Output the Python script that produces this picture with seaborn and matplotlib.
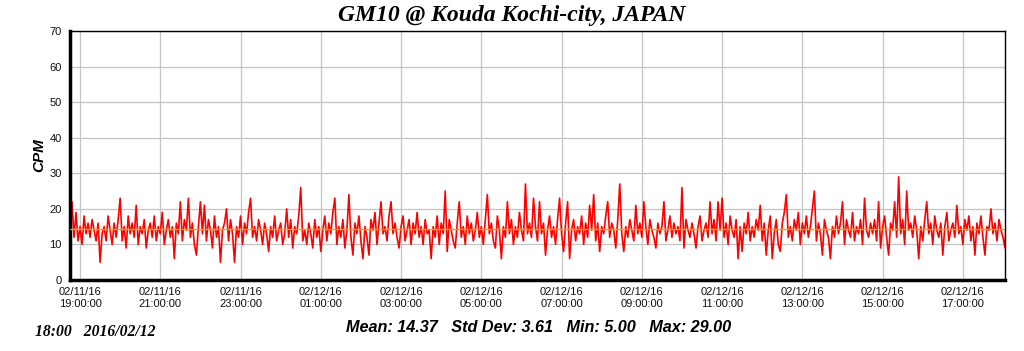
import matplotlib
matplotlib.use("Agg")
import matplotlib.pyplot as plt
import matplotlib.dates as mdates
import numpy as np
import pandas as pd
import seaborn as sns

# CPM readings, one value every 3 minutes
cpm = [
    17, 22, 12, 19, 11, 15, 10, 18, 13, 16, 12, 17, 14, 11, 16, 5, 13, 15, 11, 18,
    14, 10, 16, 12, 17, 23, 11, 15, 9, 18, 13, 16, 12, 21, 10, 15, 13, 17, 9, 14,
    16, 12, 18, 11, 15, 13, 19, 10, 14, 17, 12, 15, 6, 16, 13, 22, 11, 17, 14, 23,
    12, 16, 10, 7, 15, 22, 13, 21, 11, 17, 14, 9, 18, 12, 15, 5, 14, 16, 20, 11,
    17, 13, 5, 15, 12, 18, 10, 16, 13, 19, 23, 12, 15, 11, 17, 14, 10, 16, 13, 8,
    15, 12, 18, 11, 14, 16, 10, 13, 20, 12, 17, 9, 15, 13, 18, 26, 11, 14, 10, 16,
    13, 9, 17, 12, 15, 8, 14, 18, 11, 16, 13, 19, 23, 10, 15, 12, 17, 9, 14, 24,
    12, 7, 16, 13, 18, 11, 6, 15, 12, 7, 17, 14, 19, 10, 16, 22, 13, 15, 11, 18,
    22, 13, 16, 12, 9, 15, 18, 11, 14, 17, 10, 16, 13, 19, 12, 15, 10, 17, 13, 14,
    6, 15, 12, 18, 10, 16, 13, 25, 8, 17, 14, 11, 9, 16, 22, 12, 15, 10, 18, 13,
    16, 11, 14, 19, 12, 15, 10, 17, 24, 13, 16, 11, 9, 18, 14, 6, 15, 12, 22, 13,
    17, 10, 15, 12, 19, 14, 11, 27, 13, 16, 12, 23, 15, 11, 22, 13, 16, 7, 14, 18,
    12, 15, 10, 17, 23, 13, 8, 16, 22, 6, 14, 17, 11, 15, 13, 18, 10, 16, 12, 21,
    14, 24, 11, 16, 8, 15, 13, 18, 22, 12, 16, 14, 9, 17, 27, 13, 8, 15, 12, 17,
    14, 11, 21, 13, 16, 12, 22, 15, 10, 17, 14, 12, 9, 16, 13, 15, 22, 11, 14, 18,
    12, 16, 13, 15, 11, 26, 9, 17, 14, 12, 16, 13, 9, 15, 18, 11, 14, 16, 12, 22,
    13, 17, 11, 22, 14, 23, 12, 16, 10, 18, 14, 12, 17, 6, 15, 8, 16, 13, 19, 11,
    15, 12, 17, 14, 21, 11, 16, 7, 14, 18, 6, 13, 17, 10, 8, 16, 19, 24, 12, 15,
    11, 17, 14, 19, 10, 16, 13, 18, 12, 15, 20, 25, 11, 16, 13, 7, 17, 14, 12, 6,
    15, 12, 18, 13, 16, 22, 10, 17, 14, 12, 19, 11, 15, 13, 17, 10, 23, 14, 12, 16,
    13, 17, 11, 22, 9, 15, 18, 12, 7, 16, 14, 22, 12, 29, 13, 17, 10, 25, 14, 16,
    12, 18, 14, 6, 15, 11, 17, 22, 13, 16, 10, 18, 14, 12, 16, 7, 15, 19, 11, 14,
    16, 12, 21, 13, 15, 10, 17, 14, 18, 11, 15, 7, 16, 13, 18, 12, 7, 15, 14, 20,
    13, 16, 11, 17, 14, 12, 9, 22,
]
start_time = "2016-02-11 18:45"
step = "3min"
y_ticks = [0, 10, 20, 30, 40, 50, 60, 70]
title = "GM10 @ Kouda Kochi-city, JAPAN"
stats_text = "Mean: 14.37   Std Dev: 3.61   Min: 5.00   Max: 29.00"
stamp_text = "18:00   2016/02/12"

times = pd.date_range(start_time, periods=len(cpm), freq=step)
df = pd.DataFrame({"time": times, "cpm": cpm})

sns.set_style("white")
plt.rcParams["font.family"] = ["Liberation Sans", "DejaVu Sans"]
plt.rcParams["text.color"] = "black"
plt.rcParams["axes.labelcolor"] = "black"

fig = plt.figure(figsize=(10.24, 3.51), dpi=100)
ax = fig.add_axes([70 / 1024, 1 - 280 / 351, 935 / 1024, 249 / 351])

sns.lineplot(data=df, x="time", y="cpm", ax=ax, color="red", linewidth=1.2)
ax.axhline(np.mean(cpm), color="#d8b000", linewidth=1, zorder=3)

# axes limits and ticks
ax.set_xlim(pd.Timestamp("2016-02-11 18:45"), pd.Timestamp("2016-02-12 18:03"))
ax.set_ylim(0, 70)
ax.set_yticks(y_ticks)
ax.xaxis.set_major_locator(mdates.HourLocator(byhour=range(1, 24, 2)))
ax.xaxis.set_major_formatter(mdates.DateFormatter("%m/%d/%y\n%H:%M:%S"))
ax.tick_params(axis="both", labelsize=8, length=4, width=1, color="black",
               direction="out", pad=2, labelcolor="#101010")
ax.tick_params(axis="x", length=3)

ax.grid(True, color="#c4c4c4", linewidth=0.9)
ax.set_axisbelow(True)

for side in ["top", "right"]:
    ax.spines[side].set_linewidth(1)
    ax.spines[side].set_color("black")
for side in ["left", "bottom"]:
    ax.spines[side].set_linewidth(2.5)
    ax.spines[side].set_color("black")

ax.set_xlabel("")
ax.set_ylabel("CPM", fontsize=11, fontweight="bold", fontstyle="italic", labelpad=2)

# texts around the plot
fig.text(0.5, 0.955, title, ha="center", va="center", fontsize=17,
         fontweight="bold", fontstyle="italic", family="Liberation Serif")
fig.text(539 / 1024, 1 - 327 / 351, stats_text, ha="center", va="center",
         fontsize=11.7, fontweight="bold", fontstyle="italic")
fig.text(35 / 1024, 1 - 332 / 351, stamp_text, ha="left", va="center",
         fontsize=11.3, fontweight="bold", fontstyle="italic", family="Liberation Serif")

fig.savefig("out.png", dpi=100)
